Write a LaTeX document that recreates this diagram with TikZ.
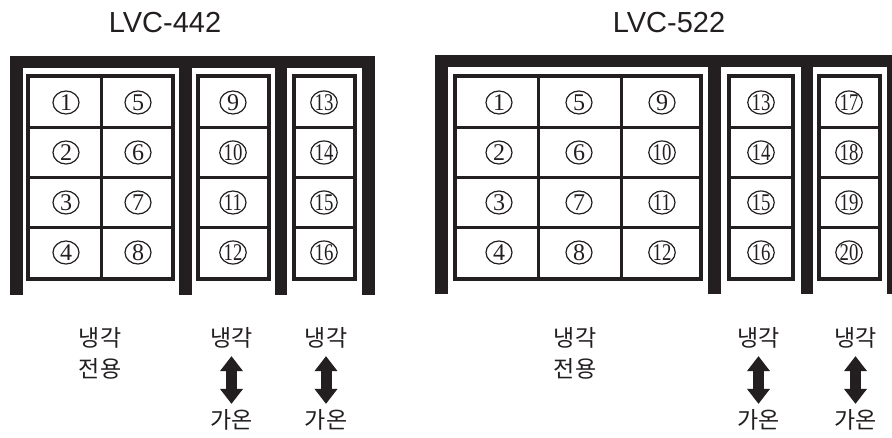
\documentclass[tikz,border=0pt]{standalone}
\usepackage{fontspec}
\usepackage{graphicx}
\usetikzlibrary{shapes.geometric,arrows.meta}
\setmainfont{Liberation Serif}
\newfontfamily\kfont{Noto Sans CJK KR}
\newfontfamily\tfont{Liberation Sans}
\newfontfamily\nfont{Liberation Serif}
\definecolor{ink}{RGB}{35,31,32}
\newcommand{\cnum}[1]{\ifnum#1>9 \scalebox{0.78}[1]{#1}\else #1\fi}
\tikzset{
  post/.style={fill=ink},
  outerbox/.style={draw=ink,line width=4pt},
  innerline/.style={draw=ink,line width=3pt},
  numc/.style={ellipse,draw=ink,line width=1.2pt,minimum width=26pt,minimum height=23pt,inner sep=0pt,text=ink,font=\nfont\fontsize{24}{24}\selectfont},
  title/.style={inner sep=0pt,text=ink,font=\tfont\fontsize{29}{29}\selectfont},
  klab/.style={inner sep=0pt,text=ink,align=center,font=\kfont\fontsize{23}{31}\selectfont},
  bigarrow/.style={draw=ink,line width=11pt,{Triangle[width=22pt,length=15pt]}-{Triangle[width=22pt,length=15pt]}}
}
\begin{document}
\begin{tikzpicture}[x=1pt,y=-1pt]
\useasboundingbox[fill=white] (0,0) rectangle (892,438);
% titles
\node[title] (t1) at (165,22.5) {LVC-442};
\node[title] (t2) at (669,22.5) {LVC-522};
% ---- left unit frame
\fill[post] (10,56) rectangle (375,68);
\foreach \a/\b in {10/23,179/192,275/287,362/375} \fill[post] (\a,56) rectangle (\b,295);
% boxes
\draw[outerbox] (28,76) rectangle (173,279);
\draw[outerbox] (198,76) rectangle (269,279);
\draw[outerbox] (294,76) rectangle (355,279);
\foreach \y in {127.5,177.5,228}{
  \draw[innerline] (28,\y) -- (173,\y);
  \draw[innerline] (198,\y) -- (269,\y);
  \draw[innerline] (294,\y) -- (355,\y);
}
\draw[innerline] (101.7,76) -- (101.7,279);
% ---- right unit frame
\fill[post] (435,55) rectangle (892,67);
\foreach \a/\b in {435/448,708/721,801/813,887/900} \fill[post] (\a,55) rectangle (\b,294);
\draw[outerbox] (455,76) rectangle (701,279);
\draw[outerbox] (729,76) rectangle (793,279);
\draw[outerbox] (819,76) rectangle (880,279);
\foreach \y in {127.5,177.5,228}{
  \draw[innerline] (455,\y) -- (701,\y);
  \draw[innerline] (729,\y) -- (793,\y);
  \draw[innerline] (819,\y) -- (880,\y);
}
\draw[innerline] (538,76) -- (538,279);
\draw[innerline] (621,76) -- (621,279);
% numbers
\foreach \cx/\s/\u in {66/1/L,138/5/L,233/9/L,324/13/L,499/1/R,579/5/R,662/9/R,761/13/R,849/17/R}{
  \foreach \r/\cy in {0/102.5,1/152.5,2/202.5,3/252.5}{
    \pgfmathtruncatemacro{\n}{\s+\r}
    \node[numc] (n\u\n) at (\cx,\cy) {\cnum{\n}};
  }
}
% labels left unit
\node[klab] (la) at (100,353) {냉각\\전용};
\node[klab] (lb1) at (231.5,337.5) {냉각};
\node[klab] (lb2) at (231.5,420) {가온};
\node[klab] (lc1) at (326,337.5) {냉각};
\node[klab] (lc2) at (326,420) {가온};
\draw[bigarrow,shorten <=8pt,shorten >=5.5pt] (lb1.south) -- (lb2.north);
\draw[bigarrow,shorten <=8pt,shorten >=5.5pt] (lc1.south) -- (lc2.north);
% labels right unit
\node[klab] (ra) at (575,353) {냉각\\전용};
\node[klab] (rb1) at (758.5,337.5) {냉각};
\node[klab] (rb2) at (758.5,420) {가온};
\node[klab] (rc1) at (855.5,337.5) {냉각};
\node[klab] (rc2) at (855.5,420) {가온};
\draw[bigarrow,shorten <=8pt,shorten >=5.5pt] (rb1.south) -- (rb2.north);
\draw[bigarrow,shorten <=8pt,shorten >=5.5pt] (rc1.south) -- (rc2.north);
\end{tikzpicture}
\end{document}
